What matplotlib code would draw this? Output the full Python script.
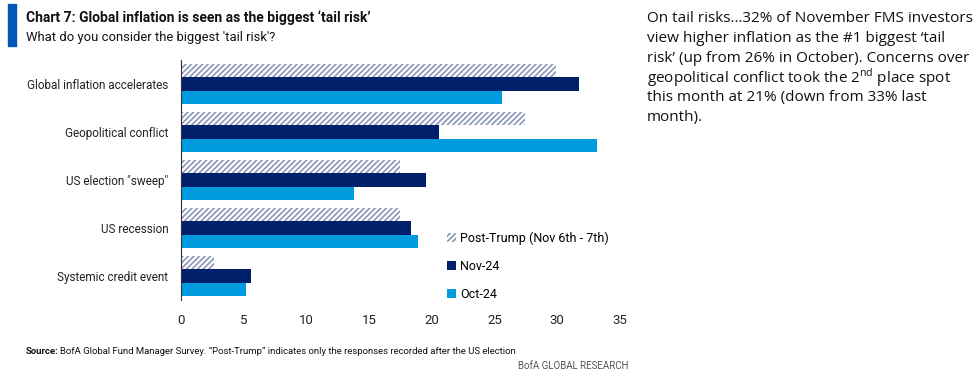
import matplotlib.pyplot as plt
import numpy as np
from matplotlib.patches import Rectangle

plt.rcParams['font.family'] = ['Open Sans', 'DejaVu Sans']
plt.rcParams['mathtext.fontset'] = 'custom'
plt.rcParams['mathtext.rm'] = 'Open Sans'
plt.rcParams['hatch.linewidth'] = 1.2

# data
categories = ['Global inflation accelerates', 'Geopolitical conflict',
              'US election "sweep"', 'US recession', 'Systemic credit event']
post_trump = [29.9, 27.4, 17.5, 17.5, 2.6]
nov_24 = [31.7, 20.6, 19.5, 18.3, 5.6]
oct_24 = [25.6, 33.2, 13.8, 18.9, 5.2]
xticks = [0, 5, 10, 15, 20, 25, 30, 35]

navy = '#01206B'
light = '#009BDE'
hatch_col = '#8A95B8'
narrow = ['Roboto', 'DejaVu Sans']

fig = plt.figure(figsize=(9.79, 3.83), dpi=100)
ax = fig.add_axes([181 / 979, 1 - 300 / 383, 439 / 979, 240 / 383])

y = np.arange(len(categories))
h = 0.28
ax.barh(y - h, post_trump, height=h, color='white', edgecolor=hatch_col,
        hatch='//////', linewidth=0, label='Post-Trump (Nov 6th - 7th)')
ax.barh(y, nov_24, height=h, color=navy, label='Nov-24')
ax.barh(y + h, oct_24, height=h, color=light, label='Oct-24')

ax.set_ylim(len(categories) - 0.5, -0.5)
ax.set_xlim(0, 35)
ax.set_xticks(xticks)
ax.set_yticks(y)
ax.set_yticklabels(categories, family=narrow, fontsize=8.5)
ax.set_xticklabels([str(t) for t in xticks], family=narrow, fontsize=9.5)
ax.tick_params(axis='both', length=0, colors='#222222')
ax.tick_params(axis='x', pad=10)
ax.tick_params(axis='y', pad=9)
for s in ['top', 'right', 'bottom']:
    ax.spines[s].set_visible(False)
ax.spines['left'].set_color('#333333')
ax.spines['left'].set_linewidth(0.8)

leg = ax.legend(loc='lower right', bbox_to_anchor=(1.0, -0.05), frameon=False,
                prop={'family': narrow, 'size': 9}, handlelength=0.75,
                handleheight=0.75, handletextpad=0.3, labelspacing=1.2)

# header
fig.patches.append(Rectangle((8 / 979, 1 - 46 / 383), 8 / 979, 42 / 383,
                             transform=fig.transFigure, color='#0057B8'))
fig.text(26 / 979, 1 - 18 / 383,
         'Chart 7: Global inflation is seen as the biggest \u2018tail risk\u2019',
         fontsize=10, fontweight='bold', va='center', color='#111111',
         family=narrow)
fig.text(26 / 979, 1 - 37 / 383, "What do you consider the biggest 'tail risk'?",
         fontsize=9.4, va='center', color='#111111', family=narrow)

# footer
fig.text(26 / 979, 1 - 351 / 383, 'Source:', fontsize=6.8, fontweight='bold',
         va='center', color='#111111', family=narrow)
fig.text(60 / 979, 1 - 351 / 383,
         'BofA Global Fund Manager Survey. \u201cPost-Trump\u201d indicates only the responses recorded after the US election',
         fontsize=6.8, va='center', color='#111111', family=narrow)
fig.text(628 / 979, 1 - 366 / 383, 'BofA GLOBAL RESEARCH', fontsize=7,
         va='center', ha='right', color='#555555', family=narrow)

# commentary
lines = ['On tail risks\u202632% of November FMS investors',
         'view higher inflation as the #1 biggest \u2018tail',
         'risk\u2019 (up from 26% in October). Concerns over',
         'geopolitical conflict took the 2$^{\\mathrm{nd}}$ place spot',
         'this month at 21% (down from 33% last',
         'month).']
for i, t in enumerate(lines):
    fig.text(647 / 979, 1 - (19 + 19.6 * i) / 383, t, fontsize=11,
             va='center', color='#111111')

fig.savefig('out.png', dpi=100)
